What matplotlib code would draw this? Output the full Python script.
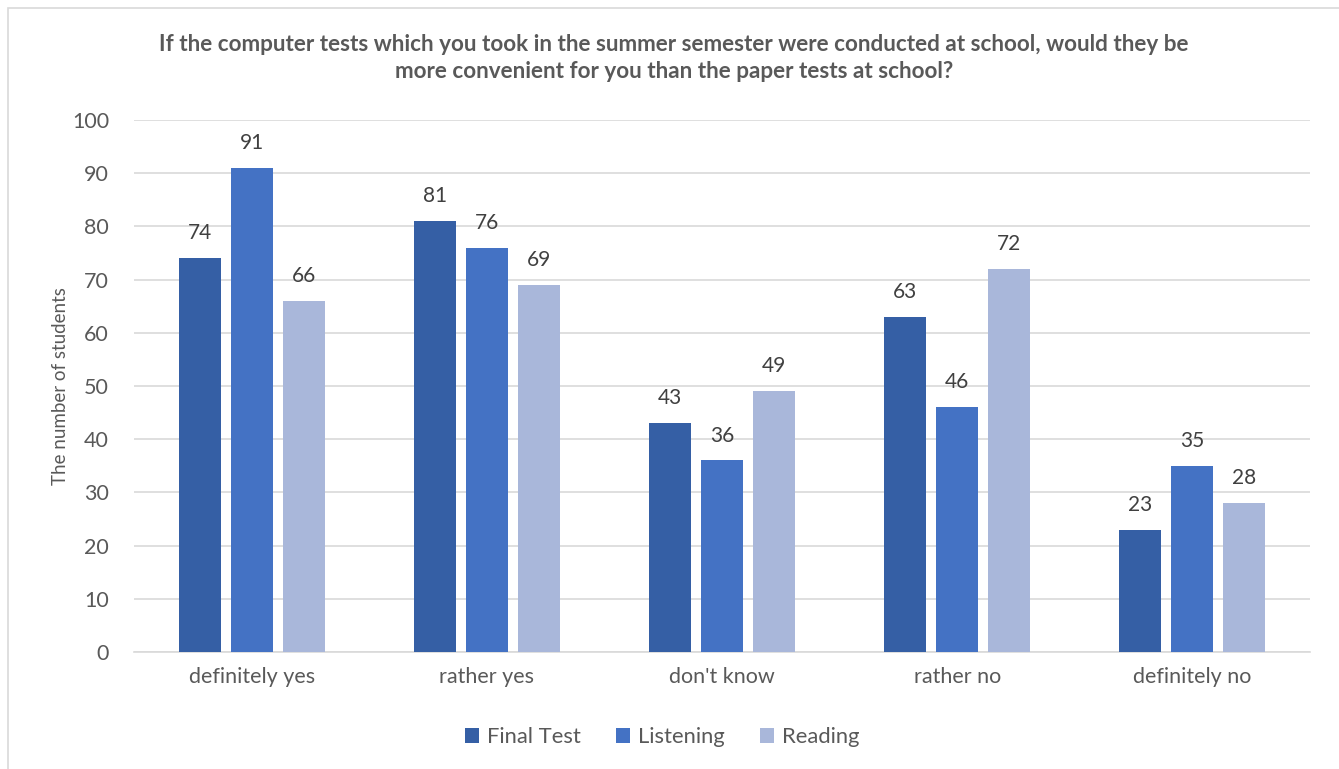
import matplotlib.pyplot as plt
import numpy as np
from matplotlib.patches import Rectangle

categories = ["definitely yes", "rather yes", "don't know", "rather no", "definitely no"]
series_names = ["Final Test", "Listening", "Reading"]
final_test = [74, 81, 43, 63, 23]
listening = [91, 76, 36, 46, 35]
reading = [66, 69, 49, 72, 28]
yticks = [0, 10, 20, 30, 40, 50, 60, 70, 80, 90, 100]

colors = ["#355FA5", "#4472C4", "#A9B7DA"]
text_color = "#595959"
plt.rcParams['font.family'] = ['Lato', 'DejaVu Sans']

W, H = 1339, 769
fig = plt.figure(figsize=(W / 100, H / 100), dpi=100)
ax = fig.add_axes([134 / W, 1 - 652 / H, (1310 - 134) / W, (652 - 120) / H])

# outer chart border
fig.patches.append(Rectangle((8 / W, -0.05), 1.2, 1.05 - 8 / H, transform=fig.transFigure,
                             fill=False, edgecolor="#D9D9D9", linewidth=1.2))

x = np.arange(len(categories))
width = 0.179
step = 0.221
for i, (vals, name) in enumerate(zip([final_test, listening, reading], series_names)):
    pos = x + (i - 1) * step
    bars = ax.bar(pos, vals, width=width, color=colors[i], label=name, zorder=3)
    for b, v in zip(bars, vals):
        ax.text(b.get_x() + b.get_width() / 2, v + 2.8, str(v), ha="center", va="bottom",
                fontsize=15, color="#404040")

ax.set_xlim(-0.5, len(categories) - 0.5)
ax.set_ylim(0, 100)
ax.set_yticks(yticks)
ax.set_xticks(x)
ax.set_xticklabels(categories)
ax.tick_params(axis="both", length=0, labelsize=15.5, labelcolor=text_color)
ax.tick_params(axis="x", pad=11)
ax.tick_params(axis="y", pad=18)
ax.grid(axis="y", color="#D9D9D9", linewidth=1.2, zorder=0)
for s in ["top", "right", "left"]:
    ax.spines[s].set_visible(False)
ax.spines["bottom"].set_color("#D9D9D9")
ax.spines["bottom"].set_linewidth(1.2)
ax.set_ylabel("The number of students", fontsize=13.5, color=text_color, labelpad=2)

fig.text(674 / W, 1 - 58 / H,
         "If the computer tests which you took in the summer semester were conducted at school, would they be\nmore convenient for you than the paper tests at school?",
         ha="center", va="center", fontsize=16.2, fontweight="bold", color=text_color, linespacing=1.3)

leg = fig.legend(loc="center", bbox_to_anchor=(662 / W, 1 - 737 / H), ncol=3, frameon=False,
                 fontsize=15.8, handlelength=0.65, handleheight=0.65, handletextpad=0.35,
                 columnspacing=1.6, labelcolor=text_color)

fig.savefig("out.png", dpi=100)
